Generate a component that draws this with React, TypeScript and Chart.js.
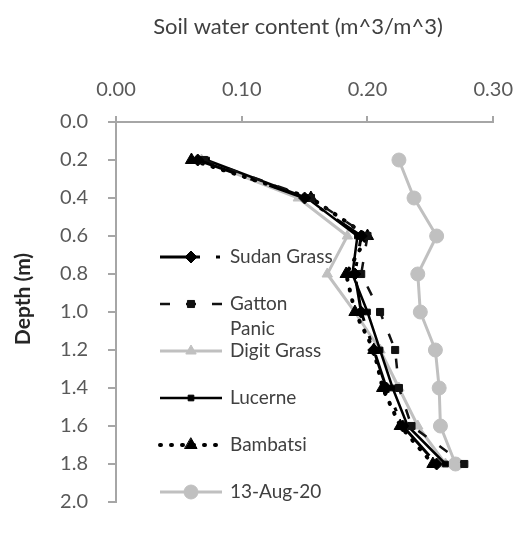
import React, { useEffect, useRef } from "react";
import { Chart, registerables } from "chart.js";
import { drawPoint } from "chart.js/helpers";

Chart.register(...registerables);

// ---- data ----
const depths = [0.2, 0.4, 0.6, 0.8, 1.0, 1.2, 1.4, 1.6, 1.8];
const sudanGrass = [0.065, 0.150, 0.195, 0.190, 0.195, 0.205, 0.215, 0.228, 0.255];
const gattonPanic = [0.070, 0.155, 0.200, 0.195, 0.210, 0.222, 0.225, 0.235, 0.277];
const digitGrass = [0.068, 0.145, 0.184, 0.168, 0.190, 0.210, 0.225, 0.240, 0.262];
const lucerne = [0.072, 0.152, 0.192, 0.188, 0.200, 0.210, 0.220, 0.232, 0.262];
const bambatsi = [0.060, 0.155, 0.200, 0.183, 0.190, 0.205, 0.212, 0.226, 0.252];
const aug13 = [0.225, 0.237, 0.255, 0.240, 0.242, 0.254, 0.257, 0.258, 0.270];

const seriesLabels = ["Sudan Grass", "Gatton Panic", "Digit Grass", "Lucerne", "Bambatsi", "13-Aug-20"];
const xTitle = "Soil water content (m^3/m^3)";
const yTitle = "Depth (m)";
const xMin = 0, xMax = 0.3, xStep = 0.1;
const yMin = 0, yMax = 2, yStep = 0.2;

const FONT = "Lato, 'Open Sans', 'DejaVu Sans', sans-serif";

const toPoints = (vals: number[]) => depths.map((d, i) => ({ x: vals[i], y: d }));

const overlayPlugin = {
  id: "overlay",
  afterDraw(chart: any) {
    const ctx = chart.ctx as CanvasRenderingContext2D;
    ctx.save();
    // titles
    ctx.fillStyle = "#404040";
    ctx.font = `22px ${FONT}`;
    ctx.textAlign = "center";
    ctx.textBaseline = "middle";
    ctx.fillText(xTitle, 298, 27);
    ctx.save();
    ctx.translate(23, 299);
    ctx.rotate(-Math.PI / 2);
    ctx.fillStyle = "#262626";
    ctx.font = `bold 21px ${FONT}`;
    ctx.fillText(yTitle, 0, 0);
    ctx.restore();

    // legend inside plot
    const x0 = 160, x1 = 222, tx = 230, y0 = 257, step = 47;
    ctx.font = `19px ${FONT}`;
    const maxTextWidth = ctx.measureText(seriesLabels[0]).width + 2;
    chart.data.datasets.forEach((ds: any, i: number) => {
      const y = y0 + i * step;
      ctx.save();
      ctx.strokeStyle = ds.borderColor;
      ctx.lineWidth = ds.borderWidth;
      ctx.setLineDash(ds.borderDash || []);
      ctx.lineCap = ds.borderCapStyle || "butt";
      ctx.beginPath();
      ctx.moveTo(x0, y);
      ctx.lineTo(x1, y);
      ctx.stroke();
      ctx.setLineDash([]);
      ctx.fillStyle = ds.pointBackgroundColor;
      ctx.strokeStyle = ds.pointBorderColor;
      ctx.lineWidth = ds.pointBorderWidth;
      drawPoint(ctx, { pointStyle: ds.pointStyle, radius: ds.pointRadius, rotation: 0, borderWidth: ds.pointBorderWidth }, (x0 + x1) / 2, y);
      ctx.restore();

      ctx.fillStyle = "#404040";
      ctx.font = `19px ${FONT}`;
      ctx.textAlign = "left";
      ctx.textBaseline = "middle";
      const label: string = ds.label;
      if (ctx.measureText(label).width > maxTextWidth && label.includes(" ")) {
        const parts = label.split(" ");
        parts.forEach((p, k) => ctx.fillText(p, tx, y + k * 25));
      } else {
        ctx.fillText(label, tx, y);
      }
    });
    ctx.restore();
  },
};

export default function App() {
  const ref = useRef<HTMLCanvasElement | null>(null);
  useEffect(() => {
    if (!ref.current) return;
    const black = "#000000";
    const grey = "#c0c0c0";
    const mk = (label: string, vals: number[], color: string, width: number, dash: number[], cap: string, style: string, radius: number, order: number) => ({
      label,
      data: toPoints(vals),
      showLine: true,
      borderColor: color,
      backgroundColor: color,
      borderWidth: width,
      borderDash: dash,
      borderCapStyle: cap,
      pointStyle: style,
      pointRadius: radius,
      pointBackgroundColor: color,
      pointBorderColor: color,
      pointBorderWidth: 1,
      order,
    });
    const chart = new Chart(ref.current, {
      type: "scatter",
      data: {
        datasets: [
          mk(seriesLabels[0], sudanGrass, black, 3, [40, 16, 4, 16], "butt", "rectRot", 6, 1),
          mk(seriesLabels[1], gattonPanic, "#111111", 2.5, [10, 16], "butt", "rect", 5, 1),
          mk(seriesLabels[2], digitGrass, grey, 3, [], "butt", "triangle", 6, 5),
          mk(seriesLabels[3], lucerne, black, 2.5, [], "butt", "rect", 4, 1),
          mk(seriesLabels[4], bambatsi, black, 4, [1, 10], "round", "triangle", 7, 1),
          mk(seriesLabels[5], aug13, grey, 3, [], "butt", "circle", 7, 6),
        ] as any,
      },
      options: {
        responsive: false,
        animation: false,
        layout: { padding: { left: 0, top: 0, right: 26, bottom: 13 } },
        plugins: { legend: { display: false }, tooltip: { enabled: false } },
        scales: {
          x: {
            type: "linear",
            position: "top",
            min: xMin,
            max: xMax,
            afterFit: (s: any) => { s.height = 122; },
            ticks: {
              stepSize: xStep,
              callback: (v: any) => Number(v).toFixed(2),
              font: { family: FONT, size: 20 },
              color: "#595959",
              padding: 14,
              maxRotation: 0,
            },
            grid: { drawOnChartArea: false, drawTicks: true, tickLength: 6, color: "#a6a6a6", lineWidth: 2 },
            border: { color: "#a6a6a6", width: 2 },
          },
          y: {
            type: "linear",
            reverse: true,
            min: yMin,
            max: yMax,
            afterFit: (s: any) => { s.width = 116; },
            ticks: {
              stepSize: yStep,
              callback: (v: any) => Number(v).toFixed(1),
              font: { family: FONT, size: 20 },
              color: "#595959",
              padding: 20,
            },
            grid: { drawOnChartArea: false, drawTicks: true, tickLength: 8, color: "#a6a6a6", lineWidth: 2 },
            border: { color: "#a6a6a6", width: 2 },
          },
        },
      } as any,
      plugins: [overlayPlugin],
    });
    return () => chart.destroy();
  }, []);
  return (
    <div style={{ position: "fixed", left: 0, top: 0, width: 527, height: 534, background: "#fff" }}>
      <canvas ref={ref} width={527} height={534} style={{ display: "block" }} />
    </div>
  );
}
